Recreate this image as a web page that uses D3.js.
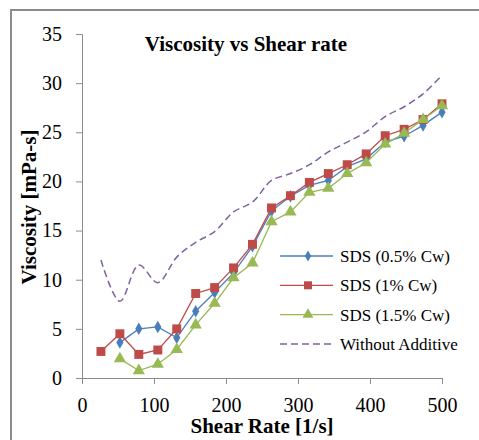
<!DOCTYPE html>
<html>
<head>
<meta charset="utf-8">
<script src="https://cdn.jsdelivr.net/npm/d3@7"></script>
<style>
body { margin: 0; background: #fff; }
</style>
</head>
<body>
<script>
// shear rate points (1/s)
var shearRate = [26.3, 52.6, 78.9, 105.3, 131.6, 157.9, 184.2, 210.5, 236.8, 263.2,
                 289.5, 315.8, 342.1, 368.4, 394.7, 421.1, 447.4, 473.7, 500];

// viscosity (mPa-s), null = no point
var sds05 = [null, 3.6, 5.0, 5.2, 4.1, 6.8, 8.7, 10.7, 13.4, 17.0,
             18.5, 19.6, 20.1, 21.5, 22.3, 24.0, 24.6, 25.7, 27.05];
var sds1 = [2.7, 4.5, 2.4, 2.85, 5.0, 8.6, 9.2, 11.2, 13.6, 17.3,
            18.55, 19.9, 20.8, 21.7, 22.8, 24.65, 25.3, 26.3, 27.9];
var sds15 = [null, 1.95, 0.75, 1.4, 2.9, 5.4, 7.6, 10.2, 11.7, 15.9,
             16.9, 18.9, 19.3, 20.8, 21.9, 23.8, 24.9, 26.3, 27.7];
var noAdditive = [12.0, 7.8, 11.5, 9.7, 12.3, 13.8, 14.9, 16.9, 17.9, 20.1,
                  20.8, 21.7, 23.0, 24.0, 25.05, 26.6, 27.6, 28.9, 30.8];

var xTicks = [0, 100, 200, 300, 400, 500];
var yTicks = [0, 5, 10, 15, 20, 25, 30, 35];

var FONT = "'Liberation Serif', 'Times New Roman', serif";

var W = 479, H = 440;
var margin = {top: 34, right: 37, bottom: 62, left: 82};
var width = W - margin.left - margin.right;
var height = H - margin.top - margin.bottom;

var svg = d3.select("body").append("svg")
    .attr("width", W)
    .attr("height", H)
    .attr("font-family", FONT);

// outer chart border
svg.append("rect")
    .attr("x", 11).attr("y", 10)
    .attr("width", W + 10).attr("height", H + 10)
    .attr("fill", "none")
    .attr("stroke", "#8c8c8c")
    .attr("stroke-width", 2);

var g = svg.append("g")
    .attr("transform", "translate(" + margin.left + "," + margin.top + ")");

var x = d3.scaleLinear().domain([0, 500]).range([0, width]);
var y = d3.scaleLinear().domain([0, 35]).range([height, 0]);

// axes
var xAxis = g.append("g")
    .attr("transform", "translate(0," + height + ")")
    .call(d3.axisBottom(x).tickValues(xTicks).tickSizeOuter(0).tickSize(6).tickPadding(14));
var yAxis = g.append("g")
    .call(d3.axisLeft(y).tickValues(yTicks).tickSizeOuter(0).tickSize(6).tickPadding(14));

xAxis.attr("font-family", FONT).attr("font-size", 20);
yAxis.attr("font-family", FONT).attr("font-size", 20);
g.selectAll(".domain, .tick line").attr("stroke", "#8c8c8c");
g.selectAll(".tick text").attr("fill", "#000");

// series
var series = [
    {name: "SDS (0.5% Cw)", values: sds05, color: "#4a7ebb", shape: d3.symbolDiamond, size: 45},
    {name: "SDS (1% Cw)", values: sds1, color: "#be4b48", shape: d3.symbolSquare, size: 80},
    {name: "SDS (1.5% Cw)", values: sds15, color: "#98b954", shape: d3.symbolTriangle, size: 65},
    {name: "Without Additive", values: noAdditive, color: "#7e62a1", dashed: true}
];

series.forEach(function(s) {
    var pts = [];
    s.values.forEach(function(v, i) {
        if (v != null) pts.push([shearRate[i], v]);
    });
    var line = d3.line()
        .x(function(d) { return x(d[0]); })
        .y(function(d) { return y(d[1]); });
    if (s.dashed) line.curve(d3.curveCatmullRom.alpha(0.5));

    g.append("path")
        .datum(pts)
        .attr("fill", "none")
        .attr("stroke", s.color)
        .attr("stroke-width", s.dashed ? 1.5 : 1.3)
        .attr("stroke-dasharray", s.dashed ? "7,4" : null)
        .attr("d", line);

    if (s.shape) {
        g.selectAll(null)
            .data(pts)
            .enter()
            .append("path")
            .attr("d", d3.symbol().type(s.shape).size(s.size))
            .attr("transform", function(d) {
                return "translate(" + x(d[0]) + "," + y(d[1]) + ")";
            })
            .attr("fill", s.color);
    }
});

// legend
var legend = svg.append("g").attr("transform", "translate(280,256)");
series.forEach(function(s, i) {
    var row = legend.append("g").attr("transform", "translate(0," + (i * 29.3) + ")");
    row.append("line")
        .attr("x1", 0).attr("x2", 53)
        .attr("stroke", s.color)
        .attr("stroke-width", s.dashed ? 1.5 : 1.3)
        .attr("stroke-dasharray", s.dashed ? "7,4" : null);
    if (s.shape) {
        row.append("path")
            .attr("d", d3.symbol().type(s.shape).size(s.size * 0.8))
            .attr("transform", "translate(28,0)")
            .attr("fill", s.color);
    }
    row.append("text")
        .attr("x", 60).attr("y", 0)
        .attr("dy", "0.35em")
        .attr("font-size", 17)
        .text(s.name);
});

// title
svg.append("text")
    .attr("x", 246).attr("y", 51)
    .attr("text-anchor", "middle")
    .attr("font-size", 21)
    .attr("font-weight", "bold")
    .text("Viscosity vs Shear rate");

// axis titles
svg.append("text")
    .attr("x", 262).attr("y", 433)
    .attr("text-anchor", "middle")
    .attr("font-size", 21)
    .attr("font-weight", "bold")
    .text("Shear Rate [1/s]");

svg.append("text")
    .attr("transform", "translate(36,207) rotate(-90)")
    .attr("text-anchor", "middle")
    .attr("font-size", 21)
    .attr("font-weight", "bold")
    .text("Viscosity [mPa-s]");
</script>
</body>
</html>
